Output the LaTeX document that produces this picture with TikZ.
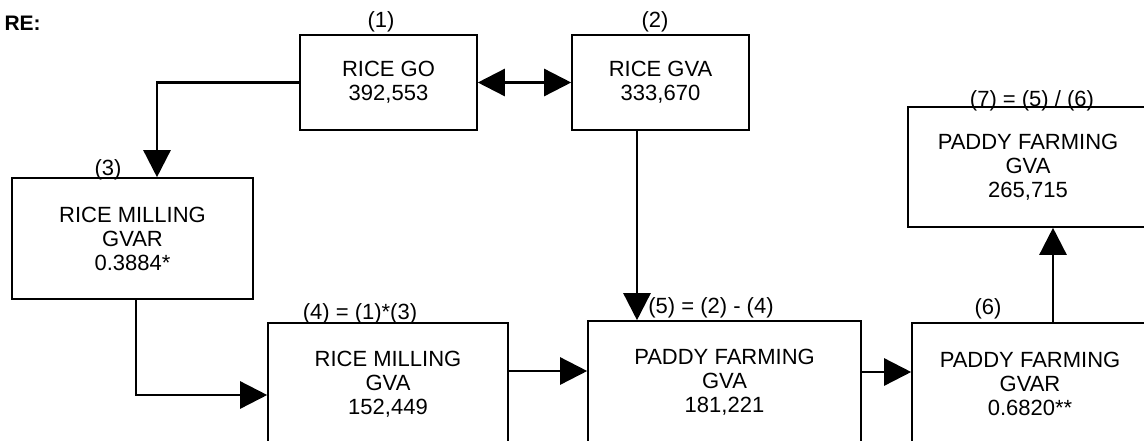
\documentclass[tikz,border=0pt]{standalone}
\usepackage{fontspec}
\setmainfont{Liberation Sans}
\usetikzlibrary{arrows.meta}

\begin{document}
\begin{tikzpicture}[x=1pt,y=-1pt,font=\fontsize{22}{24}\selectfont]
  \useasboundingbox (0,0) rectangle (1144,440);
  \clip (0,0) rectangle (1144,440);

  % stili
  \tikzset{box/.style={draw, line width=1.6pt, align=center, inner sep=0pt},
           arc/.style={black, line width=2.5pt, >={Triangle[length=27pt,width=27pt]}},
           lab/.style={inner sep=0pt}}

  % titolo
  \node[anchor=west, font=\fontsize{21}{24}\selectfont\bfseries] (tit) at (1,23) {RE:};

  % boxes
  \node[box, minimum width=177pt, minimum height=95pt] (go) at (388.5,82.5) {RICE GO\\392,553};
  \node[box, minimum width=177pt, minimum height=95pt] (gva) at (660.5,82.5) {RICE GVA\\333,670};
  \node[box, minimum width=241pt, minimum height=121pt] (mgvar) at (132.5,238.5) {RICE MILLING\\GVAR\\0.3884*};
  \node[box, minimum width=240pt, minimum height=122pt] (mgva) at (388,384) {RICE MILLING\\GVA\\152,449};
  \node[box, minimum width=273pt, minimum height=122pt] (pgva) at (724.5,382) {PADDY FARMING\\GVA\\181,221};
  \node[box, minimum width=236pt, minimum height=122pt] (pgvar) at (1030,384) {PADDY FARMING\\GVAR\\0.6820**};
  \node[box, minimum width=240pt, minimum height=120pt] (pout) at (1028,167) {PADDY FARMING\\GVA\\265,715};

  % etichette
  \node[lab] (l1) at (381,22) {(1)};
  \node[lab] (l2) at (655,22) {(2)};
  \node[lab] (l3) at (108,170) {(3)};
  \node[lab] (l4) at (360,314) {(4) = (1)*(3)};
  \node[lab] (l5) at (711,308) {(5) = (2) - (4)};
  \node[lab] (l6) at (988,309) {(6)};
  \node[lab] (l7) at (1032,101) {(7) = (5) / (6)};

  % frecce
  \draw[arc,<->] (go) -- (gva);
  \draw[arc,->] (go.west) -| ([xshift=24.5pt]mgvar.north);
  \draw[arc,->] ([xshift=3.5pt]mgvar.south) |- ([yshift=-11pt]mgva.west);
  \draw[arc,->] ([yshift=13pt]mgva.east) -- ([yshift=11pt]pgva.west);
  \draw[arc,->] ([xshift=-23.5pt]gva.south) -- ([xshift=-23.5pt]gva.south |- pgva.north);
  \draw[arc,->] ([yshift=10pt]pgva.east) -- ([yshift=12pt]pgvar.west);
  \draw[arc,->] ([xshift=23pt]pgvar.north) -- ([xshift=23pt]pgvar.north |- pout.south);

\end{tikzpicture}
\end{document}
